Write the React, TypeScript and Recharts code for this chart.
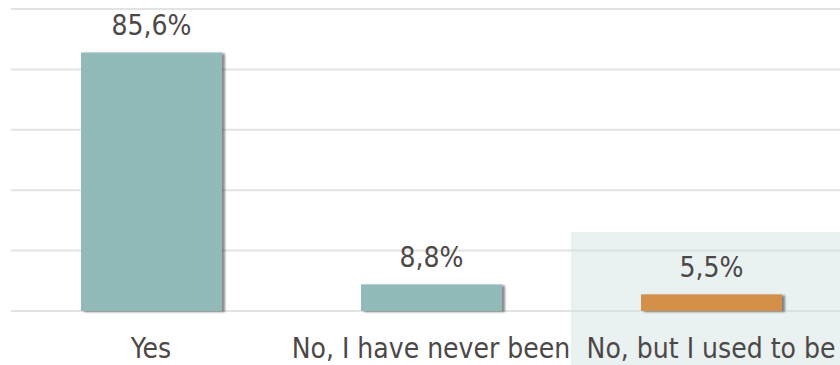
import { BarChart, Bar, XAxis, YAxis, CartesianGrid, LabelList, Cell, ReferenceArea } from 'recharts'

const categories = ['Yes', 'No, I have never been', 'No, but I used to be']
const shares = [85.6, 8.8, 5.5]
const barColors = ['#91bab8', '#91bab8', '#d4904a']
const yTicks = [0, 20, 40, 60, 80, 100]

const data = categories.map((name, i) => ({ name, value: shares[i] }))

const FONT = '"DejaVu Sans Condensed", "DejaVu Sans", sans-serif'
const TEXT = '#4d4848'

const fmt = (v: any) => String(v).replace('.', ',') + '%'

function ShadowBar(props: any) {
  const { x, y, width, height, fill } = props
  return <rect x={x} y={y} width={width} height={height} fill={fill} filter="url(#barShadow)" />
}

function Tick(props: any) {
  const { x, y, payload } = props
  return (
    <text x={x} y={y} dy={39} textAnchor="middle" fill={TEXT} fontSize={28} fontFamily={FONT}>
      {payload.value}
    </text>
  )
}

export default function App() {
  return (
    <div style={{ position: 'absolute', left: 0, top: 0, width: 840, height: 365, overflow: 'hidden', background: '#fff' }}>
      <BarChart width={851} height={365} data={data} margin={{ top: 9, right: 0, bottom: 0, left: 11 }}>
        <defs>
          <filter id="barShadow" x="-10%" y="-10%" width="130%" height="130%">
            <feDropShadow dx="3" dy="1" stdDeviation="1.2" floodColor="#000" floodOpacity="0.45" />
          </filter>
        </defs>
        <ReferenceArea x1={categories[2]} x2={categories[2]} y1={-20} y2={26.2} fill="#cfe1df" fillOpacity={0.45} stroke="none" ifOverflow="visible" />
        <CartesianGrid vertical={false} stroke="#e3e3e3" strokeWidth={2} />
        <XAxis dataKey="name" axisLine={false} tickLine={false} height={54} tick={<Tick />} interval={0} />
        <YAxis hide domain={[0, 100]} ticks={yTicks} />
        <Bar dataKey="value" barSize={141} isAnimationActive={false} shape={<ShadowBar />}>
          {data.map((d, i) => (
            <Cell key={d.name} fill={barColors[i]} />
          ))}
          <LabelList dataKey="value" position="top" offset={17} formatter={fmt} fill={TEXT} fontSize={28} fontFamily={FONT} />
        </Bar>
      </BarChart>
    </div>
  )
}
